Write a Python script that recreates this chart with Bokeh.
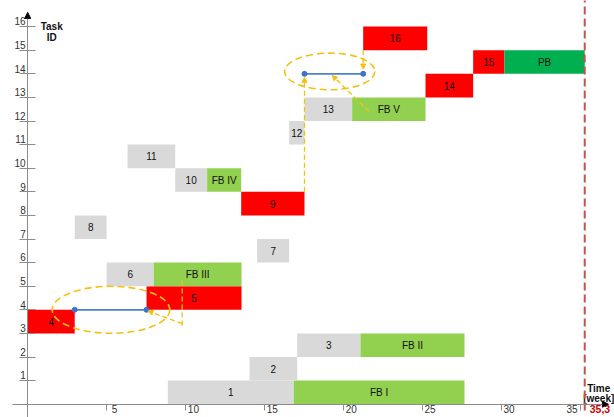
from bokeh.plotting import figure
from bokeh.models import (Range1d, LinearAxis, FixedTicker, CustomJSTickFormatter,
                          Arrow, NormalHead, ColumnDataSource)
from bokeh.core.properties import value
from bokeh.embed import file_html
from bokeh.resources import INLINE

# ---------------- data ----------------
seg_task = [1, 1, 2, 3, 3, 4, 5, 6, 6, 7, 8, 9, 10, 10, 11, 12, 13, 13, 14, 15, 15, 16]
seg_start = [8.88, 16.86, 14.06, 17.08, 21.09, 0.0, 7.53, 5.0, 7.99, 14.54, 2.98, 13.53,
             9.35, 11.37, 6.33, 16.57, 17.54, 20.56, 25.21, 28.23, 30.21, 21.26]
seg_end = [16.86, 27.68, 17.08, 21.09, 27.68, 2.98, 13.55, 7.99, 13.55, 16.57, 5.0, 17.54,
           11.37, 13.53, 9.35, 17.54, 20.56, 25.21, 28.23, 30.21, 35.3, 25.32]
seg_label = ["1", "FB I", "2", "3", "FB II", "4", "5", "6", "FB III", "7", "8", "9",
             "10", "FB IV", "11", "12", "13", "FB V", "14", "15", "PB", "16"]
seg_kind = ["task", "buffer", "task", "task", "buffer", "critical", "critical", "task", "buffer",
            "task", "task", "critical", "task", "buffer", "task", "task", "task", "buffer",
            "critical", "critical", "project", "critical"]

y_ticks = list(range(1, 17))
y_tick_labels = [str(v) for v in y_ticks]
x_ticks = [5, 10, 15, 20, 25, 30, 35]
x_tick_labels = [str(v) for v in x_ticks]

deadline = 35.3
deadline_label = "35,3"

# annotation shapes (highlighted dependencies)
ell_x = [5.28, 19.14]
ell_y = [4.0, 14.1]
ell_w = [7.45, 5.72]
ell_h = [1.99, 1.55]
link_x0 = [2.98, 17.54]
link_x1 = [7.53, 21.26]
link_y = [4.0, 14.0]
# callout lines: start/end and whether an arrowhead is drawn at the end
call_x0 = [9.79, 9.79, 17.54, 21.26, 21.62]
call_y0 = [5.24, 3.41, 9.0, 15.0, 12.41]
call_x1 = [9.79, 7.62, 17.54, 21.26, 19.3]
call_y1 = [3.33, 3.95, 13.85, 14.2, 13.93]
call_head = [False, True, True, True, True]

# ---------------- styling ----------------
kind_color = {"task": "#d9d9d9", "buffer": "#92d050", "critical": "#ff0000", "project": "#00b050"}
FONTNAME = "Liberation Sans"
FONT = value(FONTNAME)
AX = "#8c8c8c"

W, H = 614, 417
x0px, pxw = 27.2, 15.78   # axis position and px per week
y0px, pxu = 403.7, 23.6   # axis position (from top) and px per task unit

p = figure(width=W, height=H,
           x_range=Range1d(-x0px / pxw, (W - x0px) / pxw),
           y_range=Range1d(-(H - y0px) / pxu, y0px / pxu),
           output_backend="svg", toolbar_location=None,
           x_axis_location=None, y_axis_location=None, min_border=0)
p.grid.visible = False
p.outline_line_color = None
p.background_fill_color = "white"
p.border_fill_color = "white"

# bars
src = ColumnDataSource(dict(
    left=seg_start, right=seg_end,
    bottom=[t - 1 for t in seg_task], top=seg_task,
    color=[kind_color[k] for k in seg_kind],
    mid=[(a + b) / 2 for a, b in zip(seg_start, seg_end)],
    ymid=[t - 0.5 for t in seg_task],
    label=seg_label))
p.quad(left="left", right="right", bottom="bottom", top="top", fill_color="color",
       line_color=None, source=src)
p.text(x="mid", y="ymid", text="label", source=src, text_align="center",
       text_baseline="middle", text_font=FONT, text_font_size="10px", text_color="#111111")

# y axis: tick marks as minor ticks at the integers, labels (major) slightly above them
yax = LinearAxis(fixed_location=0,
                 ticker=FixedTicker(ticks=[v + 0.22 for v in y_ticks], minor_ticks=y_ticks),
                 formatter=CustomJSTickFormatter(args=dict(labels=y_tick_labels),
                                                 code="return labels[index];"),
                 major_tick_line_color=None, major_tick_in=0, major_tick_out=0,
                 minor_tick_line_color=AX, minor_tick_in=8, minor_tick_out=8,
                 axis_line_color=AX, bounds=(-0.56, 16.6), major_label_standoff=-6,
                 major_label_text_font=FONTNAME, major_label_text_font_size="10px",
                 major_label_text_color="#333333")
p.add_layout(yax, "left")

# x axis: tick marks as minor ticks, labels beside them (last one on the left)
x_lab_pos = [v + 0.5 for v in x_ticks[:-1]] + [x_ticks[-1] - 0.5]
xax = LinearAxis(fixed_location=0,
                 ticker=FixedTicker(ticks=x_lab_pos, minor_ticks=x_ticks),
                 formatter=CustomJSTickFormatter(args=dict(labels=x_tick_labels),
                                                 code="return labels[index];"),
                 major_tick_line_color=None, major_tick_in=0, major_tick_out=0,
                 minor_tick_line_color=AX, minor_tick_in=0, minor_tick_out=6,
                 axis_line_color=AX, bounds=(-0.96, 36.8), major_label_standoff=-5,
                 major_label_text_font=FONTNAME, major_label_text_font_size="10px",
                 major_label_text_color="#333333")
p.add_layout(xax, "below")

# axis arrowheads
p.add_layout(Arrow(end=NormalHead(size=6, fill_color="black", line_color="black"),
                   x_start=0, y_start=16.3, x_end=0, y_end=16.6, line_color=AX))
p.add_layout(Arrow(end=NormalHead(size=6, fill_color="black", line_color="black"),
                   x_start=36.4, y_start=0, x_end=36.8, y_end=0, line_color=AX))

# axis titles
p.text(x=[0, 0], y=[16, 16], text=["Task", "ID"], x_offset=24, y_offset=[0, 11],
       text_align="center", text_baseline="alphabetic", text_font=FONT,
       text_font_size="10px", text_font_style="bold", text_color="#111111")
p.text(x=[deadline, deadline], y=[0, 0], text=["Time", "[week]"], x_offset=14,
       y_offset=[-16, -6], text_align="center", text_baseline="alphabetic", text_font=FONT,
       text_font_size="10px", text_font_style="bold", text_color="#111111")

# deadline
p.segment(x0=[deadline], y0=[-0.27], x1=[deadline], y1=[17.2], line_color="#c9504d",
          line_width=2, line_dash="8 4")
p.text(x=[deadline], y=[0], text=[deadline_label], x_offset=5, y_offset=1,
       text_align="left", text_baseline="top", text_font=FONT, text_font_size="10.5px",
       text_font_style="bold", text_color="#d00000")

# highlighted links
YEL = "#f5c10f"
p.ellipse(x=ell_x, y=ell_y, width=ell_w, height=ell_h, fill_color=None,
          line_color=YEL, line_width=1.6, line_dash="7 4")
for i in range(len(call_x0)):
    if call_head[i]:
        p.add_layout(Arrow(end=NormalHead(size=5, fill_color=YEL, line_color=YEL),
                           x_start=call_x0[i], y_start=call_y0[i],
                           x_end=call_x1[i], y_end=call_y1[i],
                           line_color=YEL, line_width=1.3, line_dash="5 3"))
    else:
        p.segment(x0=[call_x0[i]], y0=[call_y0[i]], x1=[call_x1[i]], y1=[call_y1[i]],
                  line_color=YEL, line_width=1.3, line_dash="5 3")
p.segment(x0=link_x0, y0=link_y, x1=link_x1, y1=link_y, line_color="#4f81d0", line_width=1.8)
p.scatter(x=link_x0 + link_x1, y=link_y + link_y, size=5, fill_color="#3f72c8",
          line_color="#3f72c8")

open("out.html", "w").write(file_html(p, INLINE))
